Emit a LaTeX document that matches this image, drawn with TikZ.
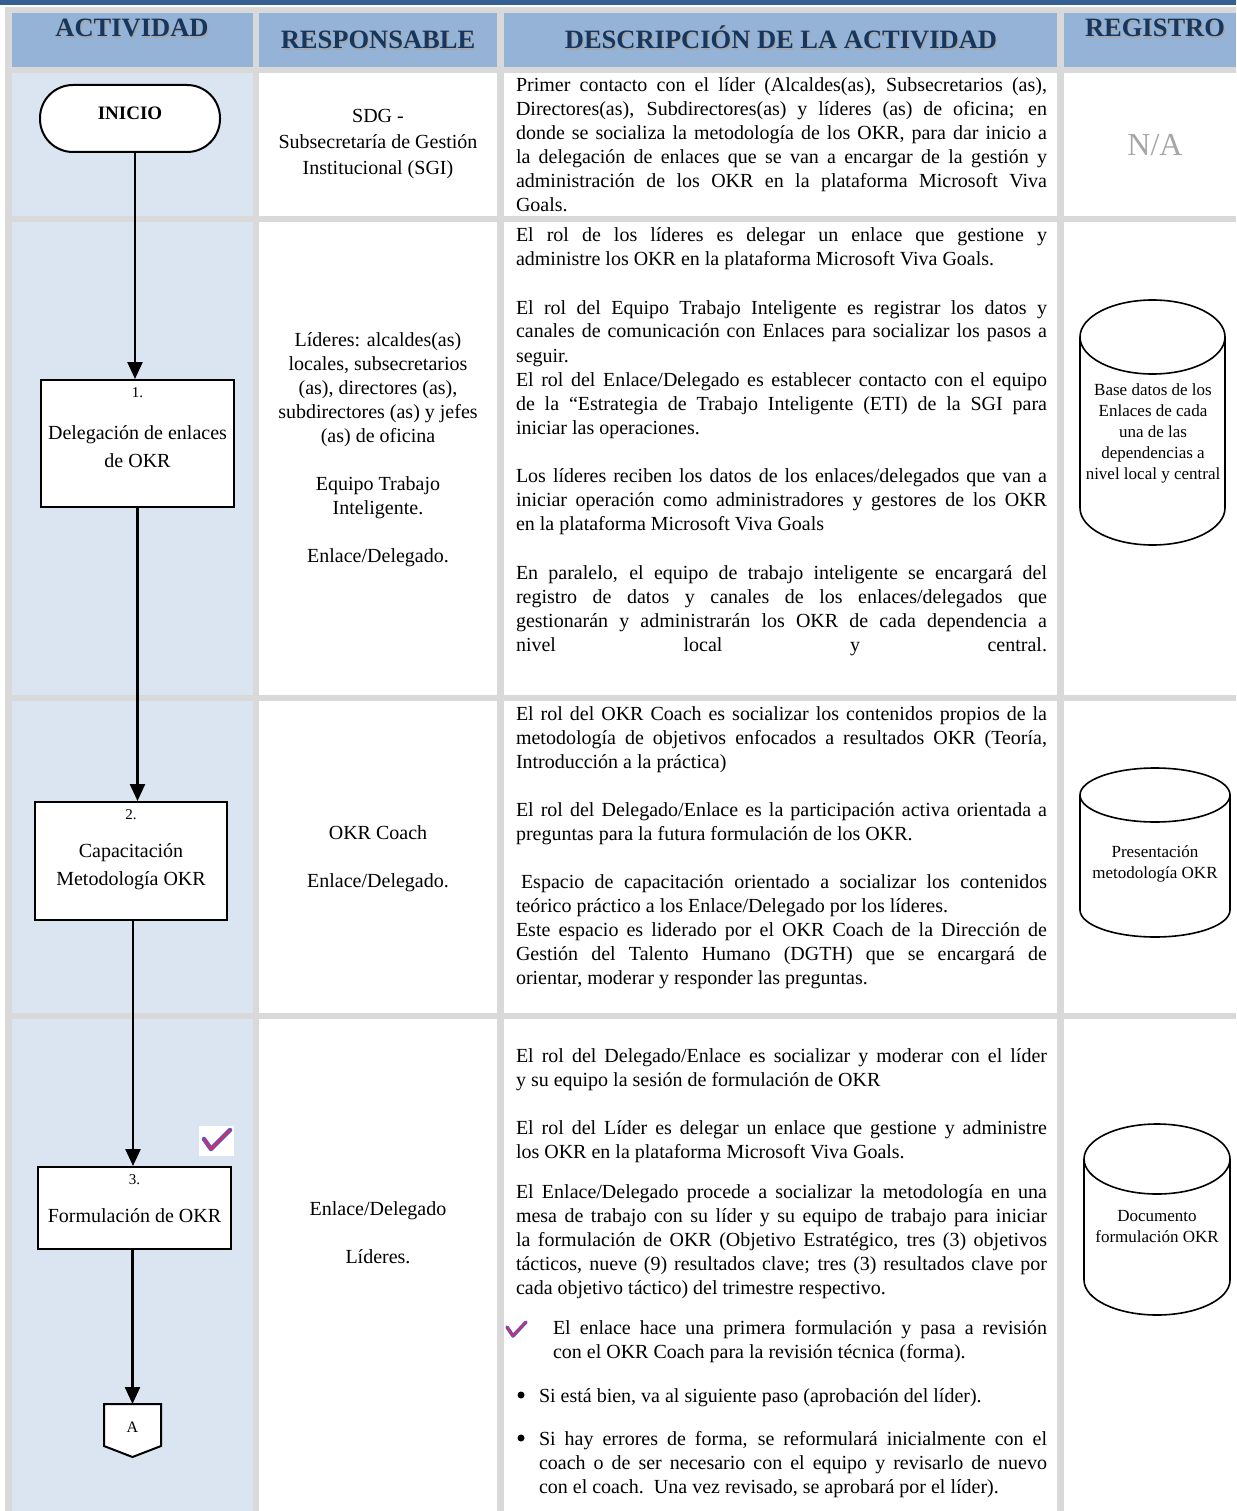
\documentclass[tikz,border=0pt]{standalone}
\usepackage{fontspec}
\usepackage{graphicx}
\setmainfont{Liberation Serif}
\usetikzlibrary{arrows.meta}
\definecolor{hdrfill}{HTML}{95B3D7}
\definecolor{hdrtext}{HTML}{17365D}
\definecolor{actfill}{HTML}{DBE5F1}
\definecolor{gridgrey}{HTML}{D9D9D9}
\definecolor{topbar}{HTML}{365F91}
\definecolor{natext}{HTML}{A6A6A6}
\definecolor{checkblue}{HTML}{4F57D6}
\definecolor{checkred}{HTML}{E8284A}
\newcommand\bodyfont{\fontsize{20}{24}\selectfont}
\newcommand\cylfont{\fontsize{17}{21}\selectfont}
\newsavebox\jbox
\newdimen\jw
\newcommand\jline[1]{\sbox\jbox{#1}\jw=\wd\jbox
  \ifdim\jw>\linewidth
    \pgfmathsetmacro\jfac{\linewidth/\jw}%
    \hbox to\linewidth{\scalebox{\jfac}[1]{\usebox\jbox}\hss}%
  \else
    \hbox to\linewidth{#1}%
  \fi}
\newcommand\nline[1]{\hbox{#1}}
\newcommand\dpar[2]{\parbox[t]{#1}{\bodyfont #2}}
\tikzset{
  desc/.style={anchor=base west, inner sep=0pt, outer sep=0pt},
  resp/.style={anchor=base, inner sep=0pt, outer sep=0pt},
  hdr/.style={anchor=base, inner sep=0pt, text=hdrtext, font=\fontsize{26.5}{30}\selectfont\bfseries},
  hdrshadow/.style={anchor=base, inner sep=0pt, text=black!35, font=\fontsize{26.5}{30}\selectfont\bfseries},
  actbox/.style={draw, line width=2pt, fill=white, inner sep=0pt},
  boxtext/.style={anchor=base, inner sep=0pt, font=\bodyfont},
  numtext/.style={anchor=base, inner sep=0pt, font=\fontsize{15}{17}\selectfont},
  cyltext/.style={anchor=base, inner sep=0pt, align=center, font=\cylfont},
  cylline/.style={line width=1.6pt},
  flow/.style={line width=2.5pt, -{Triangle[length=17pt,width=15pt]}},
  checkmk/.style={line width=4.5pt, line cap=round, line join=round, checkblue},
  checkin/.style={line width=1.8pt, line cap=round, line join=round, checkred},
  bulletdot/.style={circle, fill=black, inner sep=0pt, minimum size=7pt},
}
\begin{document}
\begin{tikzpicture}[x=1pt,y=-1pt]
\useasboundingbox (0,0) rectangle (1236,1511);
% background and grid
\fill[gridgrey] (0,0) rectangle (1236,1511);
\fill[white] (0,5) rectangle (1236,7);
\fill[white] (0,5) rectangle (5,1511);
\fill[topbar] (0,0) rectangle (1236,5);
% header cells
\fill[hdrfill] (12,13) rectangle (253,67);
\fill[hdrfill] (259,13) rectangle (497,67);
\fill[hdrfill] (504,13) rectangle (1057,67);
\fill[hdrfill] (1064,13) rectangle (1236,67);
% body cells
\foreach \ya/\yb in {73/216, 222/695, 701/1013, 1019/1511} {
  \fill[actfill] (12,\ya) rectangle (253,\yb);
  \fill[white] (259,\ya) rectangle (497,\yb);
  \fill[white] (504,\ya) rectangle (1057,\yb);
  \fill[white] (1064,\ya) rectangle (1236,\yb);
}
% header texts
\node[hdrshadow] (h1s) at (133.2,38.2) {ACTIVIDAD};
\node[hdr] (h1) at (132,37) {ACTIVIDAD};
\node[hdrshadow] (h2s) at (379.2,50.2) {RESPONSABLE};
\node[hdr] (h2) at (378,49) {RESPONSABLE};
\node[hdrshadow] (h3s) at (782.2,50.2) {DESCRIPCIÓN DE LA ACTIVIDAD};
\node[hdr] (h3) at (781,49) {DESCRIPCIÓN DE LA ACTIVIDAD};
\node[hdrshadow] (h4s) at (1156.2,38.2) {REGISTRO};
\node[hdr] (h4) at (1155,37) {REGISTRO};

% ---------- flowchart ----------
\node[draw, line width=2pt, fill=white, rounded corners=33pt, minimum width=180pt, minimum height=67pt, inner sep=0pt] (inicio) at (130,118.5) {};
\node[anchor=base, inner sep=0pt, font=\fontsize{19}{21}\selectfont\bfseries] (iniciot) at (130,120) {INICIO};

\node[actbox, minimum width=193pt, minimum height=127pt] (b1) at (137.5,443.5) {};
\node[numtext] (b1n) at (137.5,397) {1.};
\node[boxtext] (b1a) at (137.5,439) {Delegación de enlaces};
\node[boxtext] (b1b) at (137.5,467) {de OKR};

\node[actbox, minimum width=192pt, minimum height=118pt] (b2) at (131,861) {};
\node[numtext] (b2n) at (131,819) {2.};
\node[boxtext] (b2a) at (131,857) {Capacitación};
\node[boxtext] (b2b) at (131,885) {Metodología OKR};

\node[actbox, minimum width=193pt, minimum height=82pt] (b3) at (134.5,1208) {};
\node[numtext] (b3n) at (134.5,1184) {3.};
\node[boxtext] (b3a) at (134.5,1222) {Formulación de OKR};

\draw[line width=2pt, fill=white, line join=miter] (104,1404) -- (161,1404) -- (161,1446) -- (132.5,1457) -- (104,1446) -- cycle;
\coordinate (Atop) at (132.5,1404);
\node[anchor=base, inner sep=0pt, font=\fontsize{16}{18}\selectfont] (At) at (132.5,1432) {A};

\draw[flow] ([xshift=5pt]inicio.south) -- ([xshift=5pt]inicio.south |- b1.north);
\draw[flow] (b1.south) -- (b1.south |- b2.north);
\draw[flow] ([xshift=2pt]b2.south) -- ([xshift=2pt]b2.south |- b3.north);
\draw[flow] ([xshift=-2pt]b3.south) -- ([xshift=-2pt]b3.south |- Atop);

% checkmark in activity column
\fill[white] (199,1126) rectangle (234,1156);
\draw[checkmk] (204,1139) -- (211,1149) -- (230,1130);
\draw[checkin] (204,1139) -- (211,1149) -- (230,1130);

% ---------- responsable column ----------
\node[resp] (r1) at (378,123) {\parbox[t]{236pt}{\centering\fontsize{20}{26}\selectfont SDG -\\ Subsecretaría de Gestión\\ Institucional (SGI)}};
\node[resp] (r2) at (378,346) {\parbox[t]{236pt}{\centering\bodyfont Líderes: alcaldes(as)\\ locales, subsecretarios\\ (as), directores (as),\\ subdirectores (as) y jefes\\ (as) de oficina\\[24pt] Equipo Trabajo\\ Inteligente.\\[24pt] Enlace/Delegado.}};
\node[resp] (r3) at (378,839) {\parbox[t]{236pt}{\centering\bodyfont OKR Coach\\[24pt] Enlace/Delegado.}};
\node[resp] (r4) at (378,1215) {\parbox[t]{236pt}{\centering\bodyfont Enlace/Delegado\\[24pt] Líderes.}};

% ---------- descripcion column ----------
\node[desc] (d1) at (516,92) {\dpar{531pt}{%
\jline{Primer contacto con el líder (Alcaldes(as), Subsecretarios (as),}
\jline{Directores(as), Subdirectores(as) y líderes (as) de oficina; en}
\jline{donde se socializa la metodología de los OKR, para dar inicio a}
\jline{la delegación de enlaces que se van a encargar de la gestión y}
\jline{administración de los OKR en la plataforma Microsoft Viva}
\nline{Goals.}}};

\node[desc] (d2a) at (516,242) {\dpar{531pt}{%
\jline{El rol de los líderes es delegar un enlace que gestione y}
\nline{administre los OKR en la plataforma Microsoft Viva Goals.}}};
\node[desc] (d2b) at (516,314) {\dpar{531pt}{%
\jline{El rol del Equipo Trabajo Inteligente es registrar los datos y}
\jline{canales de comunicación con Enlaces para socializar los pasos a}
\nline{seguir.}
\jline{El rol del Enlace/Delegado es establecer contacto con el equipo}
\jline{de la “Estrategia de Trabajo Inteligente (ETI) de la SGI para}
\nline{iniciar las operaciones.}}};
\node[desc] (d2c) at (516,482) {\dpar{531pt}{%
\jline{Los líderes reciben los datos de los enlaces/delegados que van a}
\jline{iniciar operación como administradores y gestores de los OKR}
\nline{en la plataforma Microsoft Viva Goals}}};
\node[desc] (d2d) at (516,579) {\dpar{531pt}{%
\jline{En paralelo, el equipo de trabajo inteligente se encargará del}
\jline{registro de datos y canales de los enlaces/delegados que}
\jline{gestionarán y administrarán los OKR de cada dependencia a}
\jline{nivel local y central.}}};

\node[desc] (d3a) at (516,720) {\dpar{531pt}{%
\jline{El rol del OKR Coach es socializar los contenidos propios de la}
\jline{metodología de objetivos enfocados a resultados OKR (Teoría,}
\nline{Introducción a la práctica)}}};
\node[desc] (d3b) at (516,816) {\dpar{531pt}{%
\jline{El rol del Delegado/Enlace es la participación activa orientada a}
\nline{preguntas para la futura formulación de los OKR.}}};
\node[desc] (d3c) at (516,888) {\dpar{531pt}{%
\jline{\hskip5pt Espacio de capacitación orientado a socializar los contenidos}
\nline{teórico práctico a los Enlace/Delegado por los líderes.}
\jline{Este espacio es liderado por el OKR Coach de la Dirección de}
\jline{Gestión del Talento Humano (DGTH) que se encargará de}
\nline{orientar, moderar y responder las preguntas.}}};

\node[desc] (d4a) at (516,1062) {\dpar{531pt}{%
\jline{El rol del Delegado/Enlace es socializar y moderar con el líder}
\nline{y su equipo la sesión de formulación de OKR}}};
\node[desc] (d4b) at (516,1134) {\dpar{531pt}{%
\jline{El rol del Líder es delegar un enlace que gestione y administre}
\nline{los OKR en la plataforma Microsoft Viva Goals.}}};
\node[desc] (d4c) at (516,1198) {\dpar{531pt}{%
\jline{El Enlace/Delegado procede a socializar la metodología en una}
\jline{mesa de trabajo con su líder y su equipo de trabajo para iniciar}
\jline{la formulación de OKR (Objetivo Estratégico, tres (3) objetivos}
\jline{tácticos, nueve (9) resultados clave; tres (3) resultados clave por}
\nline{cada objetivo táctico) del trimestre respectivo.}}};
\draw[line width=3.5pt, line cap=round, line join=round, checkblue] (507,1327) -- (513,1336) -- (526,1322);
\draw[line width=1.4pt, line cap=round, line join=round, checkred] (507,1327) -- (513,1336) -- (526,1322);
\node[desc] (d4d) at (553,1334) {\dpar{494pt}{%
\jline{El enlace hace una primera formulación y pasa a revisión}
\nline{con el OKR Coach para la revisión técnica (forma).}}};
\node[bulletdot] (bul1) at (521,1395) {};
\node[desc] (d4e) at (539,1402) {\dpar{508pt}{%
\nline{Si está bien, va al siguiente paso (aprobación del líder).}}};
\node[bulletdot] (bul2) at (521,1438) {};
\node[desc] (d4f) at (539,1445) {\dpar{508pt}{%
\jline{Si hay errores de forma, se reformulará inicialmente con el}
\jline{coach o de ser necesario con el equipo y revisarlo de nuevo}
\nline{con el coach.\ \ Una vez revisado, se aprobará por el líder).}}};

% ---------- registro column ----------
\node[anchor=base, inner sep=0pt, text=natext, font=\fontsize{32}{36}\selectfont] (na) at (1155,156) {N/A};

% cylinder 1
\draw[cylline] (1080,337) -- (1080,508) arc[start angle=180, end angle=360, x radius=72.5pt, y radius=37pt] -- (1225,337);
\draw[cylline] (1152.5,337) ellipse [x radius=72.5pt, y radius=37pt];
\node[cyltext] (c1) at (1153,479) {Base datos de los\\ Enlaces de cada\\ una de las\\ dependencias a\\ nivel local y central};

% cylinder 2
\draw[cylline] (1080,795) -- (1080,910) arc[start angle=180, end angle=360, x radius=75pt, y radius=27pt] -- (1230,795);
\draw[cylline] (1155,795) ellipse [x radius=75pt, y radius=27pt];
\node[cyltext] (c2) at (1155,878) {Presentación\\ metodología OKR};

% cylinder 3
\draw[cylline] (1084,1159) -- (1084,1280) arc[start angle=180, end angle=360, x radius=73pt, y radius=35pt] -- (1230,1159);
\draw[cylline] (1157,1159) ellipse [x radius=73pt, y radius=35pt];
\node[cyltext] (c3) at (1157,1242) {Documento\\ formulación OKR};
\end{tikzpicture}
\end{document}
